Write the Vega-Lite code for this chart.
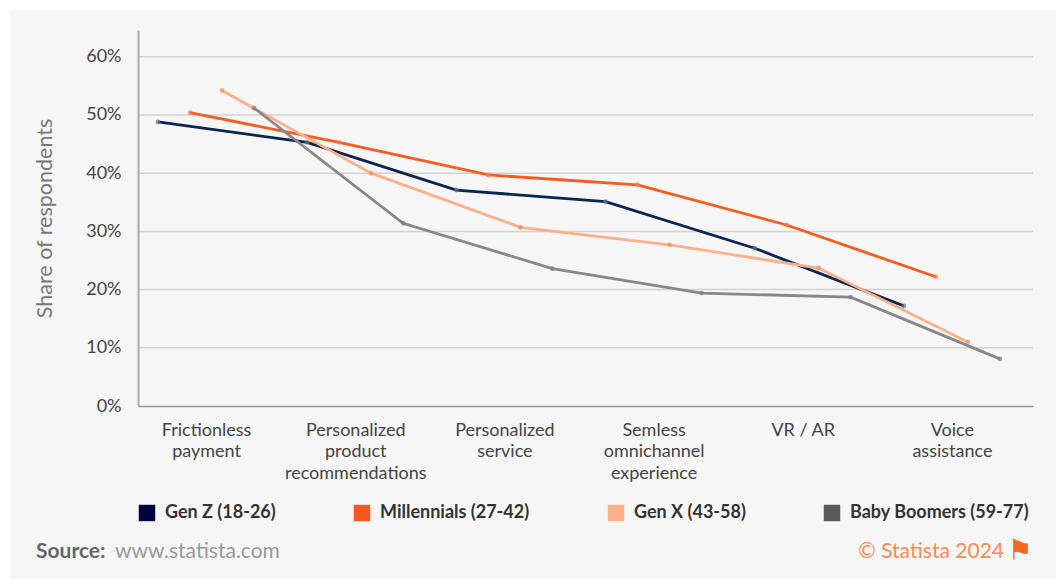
{
"$schema":"https://vega.github.io/schema/vega-lite/v6.json",
"width":895,"height":376,
"autosize":{"type":"none"},
"padding":{"left":138,"top":30,"right":23,"bottom":173},
"background":"#ffffff",
"config":{"view":{"stroke":null},"font":"Lato"},
"datasets":{
"rows":[
{"aspect":"Frictionless payment","series":"Gen Z (18-26)","share":48.8},
{"aspect":"Personalized product recommendations","series":"Gen Z (18-26)","share":45.3},
{"aspect":"Personalized service","series":"Gen Z (18-26)","share":37.1},
{"aspect":"Semless omnichannel experience","series":"Gen Z (18-26)","share":35.1},
{"aspect":"VR / AR","series":"Gen Z (18-26)","share":27.1},
{"aspect":"Voice assistance","series":"Gen Z (18-26)","share":17.2},
{"aspect":"Frictionless payment","series":"Millennials (27-42)","share":50.4},
{"aspect":"Personalized product recommendations","series":"Millennials (27-42)","share":45.3},
{"aspect":"Personalized service","series":"Millennials (27-42)","share":39.7},
{"aspect":"Semless omnichannel experience","series":"Millennials (27-42)","share":38.0},
{"aspect":"VR / AR","series":"Millennials (27-42)","share":31.1},
{"aspect":"Voice assistance","series":"Millennials (27-42)","share":22.2},
{"aspect":"Frictionless payment","series":"Gen X (43-58)","share":54.2},
{"aspect":"Personalized product recommendations","series":"Gen X (43-58)","share":40.0},
{"aspect":"Personalized service","series":"Gen X (43-58)","share":30.7},
{"aspect":"Semless omnichannel experience","series":"Gen X (43-58)","share":27.7},
{"aspect":"VR / AR","series":"Gen X (43-58)","share":23.7},
{"aspect":"Voice assistance","series":"Gen X (43-58)","share":11.0},
{"aspect":"Frictionless payment","series":"Baby Boomers (59-77)","share":51.2},
{"aspect":"Personalized product recommendations","series":"Baby Boomers (59-77)","share":31.4},
{"aspect":"Personalized service","series":"Baby Boomers (59-77)","share":23.6},
{"aspect":"Semless omnichannel experience","series":"Baby Boomers (59-77)","share":19.4},
{"aspect":"VR / AR","series":"Baby Boomers (59-77)","share":18.7},
{"aspect":"Voice assistance","series":"Baby Boomers (59-77)","share":8.1}
]},
"layer":[
{"data":{"values":[{"panel":"background"}]},
 "mark":{"type":"rect","fill":"#f6f6f6","x":-128,"x2":918,"y":-20,"y2":549},"encoding":{}},
{"data":{"values":[{"g":10},{"g":20},{"g":30},{"g":40},{"g":50},{"g":60}]},
 "mark":{"type":"rule","stroke":"#d2d2d2","strokeWidth":1.5},
 "encoding":{"y":{"field":"g","type":"quantitative","scale":{"domain":[0,64.6],"nice":false},
   "axis":{"zindex":1,"title":"Share of respondents","values":[0,10,20,30,40,50,60],"grid":false,"ticks":false,
     "labelExpr":"datum.value+'%'","labelFontSize":18,"labelColor":"#444444","labelPadding":17,
     "domainColor":"#aaaaaa","domainWidth":2,"titleFontSize":21.5,"titleFontWeight":"normal","titleColor":"#777777","titleX":-82,"titleY":188}}}},
{"data":{"name":"rows"},
 "mark":{"type":"line","strokeWidth":2.8},
 "encoding":{
  "x":{"field":"aspect","type":"nominal","sort":null,"scale":{"paddingInner":0,"paddingOuter":0},
   "axis":{"zindex":1,"title":null,"ticks":false,"labelAngle":0,"labelOffset":-6,"labelPadding":15,"labelFontSize":18,"labelColor":"#444444","labelLimit":200,"labelBaseline":"top","labelLineHeight":21.5,
    "labelExpr":"{'Frictionless payment':['Frictionless','payment'],'Personalized product recommendations':['Personalized','product','recommendations'],'Personalized service':['Personalized','service'],'Semless omnichannel experience':['Semless','omnichannel','experience'],'VR / AR':['VR / AR'],'Voice assistance':['Voice','assistance']}[datum.label]",
    "domainColor":"#999999","domainWidth":1.5}},
  "xOffset":{"field":"series","type":"nominal","sort":null,"scale":{"type":"point","range":[20,116],"padding":0}},
  "y":{"field":"share","type":"quantitative"},
  "stroke":{"field":"series","type":"nominal","legend":null,"scale":{"domain":["Baby Boomers (59-77)","Gen X (43-58)","Millennials (27-42)","Gen Z (18-26)"],"range":["#888888","#fdb08a","#f95a1f","#0b2550"]}}
 }},
{"data":{"name":"rows"},
 "mark":{"type":"point","filled":true,"size":24},
 "encoding":{
  "x":{"field":"aspect","type":"nominal","sort":null},
  "xOffset":{"field":"series","type":"nominal","sort":null},
  "y":{"field":"share","type":"quantitative"},
  "fill":{"field":"series","type":"nominal","legend":null,"scale":{"domain":["Baby Boomers (59-77)","Gen X (43-58)","Millennials (27-42)","Gen Z (18-26)"],"range":["#7d7d7d","#fb8a55","#fb7f45","#6a7086"]}}
 }},
{"data":{"name":"rows"},
 "mark":{"type":"square","size":0},
 "encoding":{
  "x":{"field":"aspect","type":"nominal","sort":null},
  "xOffset":{"field":"series","type":"nominal","sort":null},
  "y":{"field":"share","type":"quantitative"},
  "color":{"field":"series","type":"nominal","scale":{"domain":["Gen Z (18-26)","Millennials (27-42)","Gen X (43-58)","Baby Boomers (59-77)"],"range":["#03003f","#f4581f","#fbb08a","#58595b"]},
   "legend":{"zindex":1,"title":null,"orient":"none","legendX":0,"legendY":474,"direction":"horizontal","columns":4,"gridAlign":"none","columnPadding":77,"symbolType":"square","symbolSize":270,"symbolOpacity":1,"symbolStrokeWidth":0,"labelFontSize":18,"labelFontWeight":"bold","labelColor":"#333333","labelOffset":9,"labelLimit":300}}
 }},
{"data":{"values":[{"t":"Source:"}]},"mark":{"type":"text","x":-102,"y":522,"align":"left","baseline":"middle","fontSize":21,"fontWeight":"bold","color":"#666666"},"encoding":{"text":{"field":"t"}}},
{"data":{"values":[{"t":"www.statista.com"}]},"mark":{"type":"text","x":-23,"y":522,"align":"left","baseline":"middle","fontSize":21,"color":"#999999"},"encoding":{"text":{"field":"t"}}},
{"data":{"values":[{"t":"© Statista 2024"}]},"mark":{"type":"text","x":866,"y":522,"align":"right","baseline":"middle","fontSize":21,"color":"#fb8a55"},"encoding":{"text":{"field":"t"}}},
{"data":{"values":[{"t":"⚑"}]},"mark":{"type":"text","x":882,"y":522,"align":"center","baseline":"middle","font":"DejaVu Sans","fontSize":28,"color":"#f4691f"},"encoding":{"text":{"field":"t"}}}
],
"resolve":{"scale":{"y":"shared"}}
}
